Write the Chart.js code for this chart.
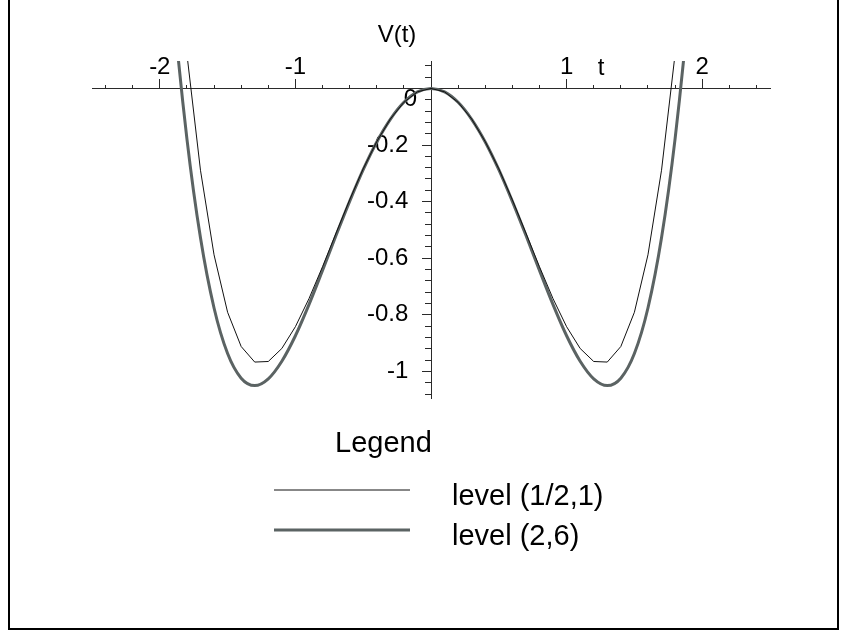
<!DOCTYPE html>
<html>
<head>
    <title>V(t)</title>
    <meta charset="utf-8">
    <style>
        body {
            margin: 0;
            padding: 0;
            background-color: #fff;
        }
        #plot {
            display: block;
        }
    </style>
    <script src="https://cdn.jsdelivr.net/npm/chart.js"></script>
</head>
<body>
    <canvas id="plot" width="846" height="634"></canvas>

    <script>
        // values
        const tValues = [-2.0, -1.9, -1.8, -1.7, -1.6, -1.5, -1.4, -1.3, -1.2, -1.1, -1.0,
                         -0.9, -0.8, -0.7, -0.6, -0.5, -0.4, -0.3, -0.2, -0.1, 0,
                         0.1, 0.2, 0.3, 0.4, 0.5, 0.6, 0.7, 0.8, 0.9, 1.0,
                         1.1, 1.2, 1.3, 1.4, 1.5, 1.6, 1.7, 1.8, 1.9, 2.0];
        const levelHalfOne = [1.343, 0.659, 0.121, -0.289, -0.588, -0.791, -0.912, -0.967, -0.965, -0.919, -0.842,
                              -0.743, -0.630, -0.511, -0.394, -0.284, -0.188, -0.108, -0.049, -0.012, 0,
                              -0.012, -0.049, -0.108, -0.188, -0.284, -0.394, -0.511, -0.630, -0.743, -0.842,
                              -0.919, -0.965, -0.967, -0.912, -0.791, -0.588, -0.289, 0.121, 0.659, 1.343];
        const levelTwoSix = [0.892, 0.290, -0.178, -0.528, -0.776, -0.937, -1.024, -1.050, -1.026, -0.964, -0.874,
                             -0.764, -0.643, -0.519, -0.399, -0.287, -0.189, -0.109, -0.049, -0.012, 0,
                             -0.012, -0.049, -0.109, -0.189, -0.287, -0.399, -0.519, -0.643, -0.764, -0.874,
                             -0.964, -1.026, -1.050, -1.024, -0.937, -0.776, -0.528, -0.178, 0.290, 0.892];
        const seriesNames = ['level (1/2,1)', 'level (2,6)'];

        const xTicks = [-2, -1, 1, 2];
        const xTickLabels = ['-2', '-1', '1', '2'];
        const yTicks = [-0.2, -0.4, -0.6, -0.8, -1];
        const yTickLabels = ['-0.2', '-0.4', '-0.6', '-0.8', '-1'];

        const X_MIN = -2.5, X_MAX = 2.5;
        const Y_MIN = -1.094, Y_MAX = 0.097;

        const AXIS = '#2a2a2a';
        const FAMILY = '"Liberation Sans", Arial, sans-serif';
        const TICK_FONT = { family: FAMILY, size: 24 };

        const xMinor = [];
        for (let k = -12; k <= 12; k++) if (k !== 0) xMinor.push(+(k * 0.2).toFixed(1));
        const yMinor = [];
        for (let k = 2; k >= -27; k--) if (k !== 0) yMinor.push(+(k * 0.04).toFixed(2));

        const toTicks = vals => vals.map(v => ({ value: v }));

        const framePlugin = {
            id: 'frame',
            afterDraw(chart) {
                const ctx = chart.ctx;
                ctx.save();
                ctx.strokeStyle = '#000';
                ctx.lineWidth = 2;
                ctx.beginPath();
                ctx.moveTo(9, 0);
                ctx.lineTo(9, 629);
                ctx.lineTo(838, 629);
                ctx.lineTo(838, 0);
                ctx.stroke();

                // axis names
                ctx.fillStyle = '#000';
                ctx.font = '24px ' + FAMILY;
                ctx.textAlign = 'center';
                ctx.textBaseline = 'middle';
                ctx.fillText('V(t)', 397, 35);
                ctx.fillText('t', 601, 68);

                // legend block
                ctx.font = '29px ' + FAMILY;
                ctx.textAlign = 'left';
                ctx.fillText('Legend', 335, 444);
                chart.data.datasets.forEach((ds, i) => {
                    const y = 490 + i * 40;
                    ctx.strokeStyle = ds.borderColor;
                    ctx.lineWidth = ds.borderWidth;
                    ctx.beginPath();
                    ctx.moveTo(274, y);
                    ctx.lineTo(410, y);
                    ctx.stroke();
                    ctx.fillText(ds.label, 452, y + 7);
                });
                ctx.restore();
            }
        };

        const plot = new Chart(document.getElementById('plot'), {
            type: 'line',
            data: {
                datasets: [{
                    label: seriesNames[0],
                    data: tValues.map((t, i) => ({ x: t, y: levelHalfOne[i] })),
                    borderColor: '#111',
                    borderWidth: 1,
                    tension: 0
                }, {
                    label: seriesNames[1],
                    data: tValues.map((t, i) => ({ x: t, y: levelTwoSix[i] })),
                    borderColor: '#5b6363',
                    borderWidth: 3,
                    cubicInterpolationMode: 'monotone'
                }]
            },
            options: {
                responsive: false,
                animation: false,
                devicePixelRatio: 1,
                layout: { padding: { left: 92, right: 76, top: 61, bottom: 236 } },
                elements: { point: { radius: 0 } },
                plugins: {
                    legend: { display: false },
                    tooltip: { enabled: false }
                },
                scales: {
                    x: {
                        type: 'linear', axis: 'x', min: X_MIN, max: X_MAX,
                        position: { y: 0 },
                        border: { color: AXIS, width: 1 },
                        grid: { drawOnChartArea: false, tickLength: -4, tickColor: AXIS },
                        ticks: { display: false },
                        afterBuildTicks: s => { s.ticks = toTicks(xMinor); }
                    },
                    xMajor: {
                        type: 'linear', axis: 'x', min: X_MIN, max: X_MAX,
                        position: { y: 0 },
                        border: { display: false },
                        grid: { drawOnChartArea: false, tickLength: -9, tickColor: AXIS },
                        ticks: {
                            font: TICK_FONT, color: '#000', padding: -26,
                            maxRotation: 0, autoSkip: false,
                            callback: (v, i) => xTickLabels[i]
                        },
                        afterBuildTicks: s => { s.ticks = toTicks(xTicks); }
                    },
                    y: {
                        type: 'linear', axis: 'y', min: Y_MIN, max: Y_MAX,
                        position: { x: 0 },
                        border: { color: AXIS, width: 1 },
                        grid: { drawOnChartArea: false, tickLength: 6, tickColor: AXIS },
                        ticks: { display: false },
                        afterBuildTicks: s => { s.ticks = toTicks(yMinor); }
                    },
                    yMajor: {
                        type: 'linear', axis: 'y', min: Y_MIN, max: Y_MAX,
                        position: { x: 0 },
                        border: { display: false },
                        grid: { drawOnChartArea: false, tickLength: 9, tickColor: AXIS },
                        ticks: { display: false },
                        afterBuildTicks: s => { s.ticks = toTicks(yTicks); }
                    },
                    yLabels: {
                        type: 'linear', axis: 'y', min: Y_MIN, max: Y_MAX,
                        position: { x: -0.167 },
                        border: { display: false },
                        grid: { display: false },
                        ticks: {
                            font: TICK_FONT, color: '#000', autoSkip: false,
                            callback: (v, i) => yTickLabels[i]
                        },
                        afterBuildTicks: s => { s.ticks = toTicks(yTicks); }
                    },
                    yZero: {
                        type: 'linear', axis: 'y', min: Y_MIN, max: Y_MAX,
                        position: { x: -0.103 },
                        border: { display: false },
                        grid: { display: false },
                        ticks: {
                            font: TICK_FONT, color: '#000', labelOffset: 11,
                            callback: () => '0'
                        },
                        afterBuildTicks: s => { s.ticks = toTicks([0]); }
                    }
                }
            },
            plugins: [framePlugin]
        });
    </script>
</body>
</html>
